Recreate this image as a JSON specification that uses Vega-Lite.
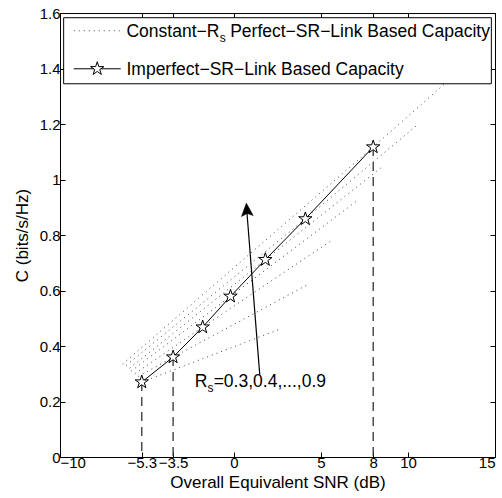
{
  "$schema": "https://vega.github.io/schema/vega-lite/v6.json",
  "width": 435,
  "height": 444,
  "autosize": {"type": "none"},
  "padding": {"left": 60, "top": 13, "right": 7, "bottom": 41},
  "background": "white",
  "config": {
    "font": "Liberation Sans",
    "view": {"stroke": "black", "strokeWidth": 1},
    "axis": {
      "domain": false,
      "grid": false,
      "ticks": true,
      "tickColor": "black",
      "tickSize": -5,
      "zindex": 1,
      "labelColor": "black",
      "labelFont": "Liberation Sans",
      "labelFontSize": 15,
      "titleFont": "Liberation Sans",
      "titleFontSize": 17,
      "titleFontWeight": "normal",
      "titleColor": "black"
    }
  },
  "datasets": {
    "curves": [
      {"rs": 0.3, "snr": -5.3, "cap": 0.27},
      {"rs": 0.3, "snr": 2.6, "cap": 0.46},
      {"rs": 0.4, "snr": -5.5, "cap": 0.29},
      {"rs": 0.4, "snr": -3.5, "cap": 0.36},
      {"rs": 0.4, "snr": 4.2, "cap": 0.62},
      {"rs": 0.5, "snr": -5.7, "cap": 0.3},
      {"rs": 0.5, "snr": -1.8, "cap": 0.468},
      {"rs": 0.5, "snr": 5.6, "cap": 0.78},
      {"rs": 0.6, "snr": -5.9, "cap": 0.31},
      {"rs": 0.6, "snr": -0.2, "cap": 0.579},
      {"rs": 0.6, "snr": 7.0, "cap": 0.92},
      {"rs": 0.7, "snr": -6.0, "cap": 0.32},
      {"rs": 0.7, "snr": 1.8, "cap": 0.711},
      {"rs": 0.7, "snr": 8.6, "cap": 1.05},
      {"rs": 0.8, "snr": -6.2, "cap": 0.33},
      {"rs": 0.8, "snr": 4.1, "cap": 0.858},
      {"rs": 0.8, "snr": 10.6, "cap": 1.2},
      {"rs": 0.9, "snr": -6.4, "cap": 0.335},
      {"rs": 0.9, "snr": 8.0, "cap": 1.117},
      {"rs": 0.9, "snr": 14.0, "cap": 1.45}
    ],
    "imperfect": [
      {"snr": -5.3, "cap": 0.27},
      {"snr": -3.5, "cap": 0.36},
      {"snr": -1.8, "cap": 0.468},
      {"snr": -0.2, "cap": 0.579},
      {"snr": 1.8, "cap": 0.711},
      {"snr": 4.1, "cap": 0.858},
      {"snr": 8.0, "cap": 1.117}
    ],
    "drops": [
      {"snr": -5.3, "cap": 0.27},
      {"snr": -3.5, "cap": 0.36},
      {"snr": 8.0, "cap": 1.117}
    ],
    "arrow": [
      {"snr": 1.48, "cap": 0.297, "snr2": 0.72, "cap2": 0.9}
    ],
    "arrowhead": [
      {"snr": 0.71, "cap": 0.915}
    ],
    "notes": [
      {"snr": -2.26, "cap": 0.252, "label": "R", "size": 17.5},
      {"snr": -1.53, "cap": 0.236, "label": "s", "size": 12},
      {"snr": -1.17, "cap": 0.252, "label": "=0.3,0.4,...,0.9", "size": 17.5}
    ],
    "legendbox": [
      {"snr": -9.79, "snr2": 14.79, "cap": 1.345, "cap2": 1.583}
    ],
    "legenddots": [
      {"snr": -9.21, "snr2": -6.51, "cap": 1.536}
    ],
    "legendsolid": [
      {"snr": -9.21, "snr2": -6.51, "cap": 1.399}
    ],
    "legendstar": [
      {"snr": -7.86, "cap": 1.399}
    ],
    "legendtext": [
      {"snr": -6.18, "cap": 1.515, "label": "Constant−R", "size": 17.5},
      {"snr": -0.82, "cap": 1.497, "label": "s", "size": 12},
      {"snr": -0.22, "cap": 1.515, "label": "Perfect−SR−Link Based Capacity", "size": 17.5},
      {"snr": -6.18, "cap": 1.378, "label": "Imperfect−SR−Link Based Capacity", "size": 17.5}
    ]
  },
  "layer": [
    {
      "data": {"name": "curves"},
      "mark": {"type": "line", "color": "#444", "strokeWidth": 1, "strokeDash": [1, 4], "clip": true},
      "encoding": {
        "x": {"field": "snr", "type": "quantitative", "scale": {"domain": [-10, 15], "nice": false, "zero": false},
              "axis": {"orient": "bottom", "values": [-10, -5.3, -3.5, 0, 5, 8, 10, 15], "format": "~g", "labelPadding": 3, "title": "Overall Equivalent SNR (dB)", "titlePadding": 4}},
        "y": {"field": "cap", "type": "quantitative", "scale": {"domain": [0, 1.6], "nice": false, "zero": false},
              "axis": {"orient": "left", "values": [0, 0.2, 0.4, 0.6, 0.8, 1, 1.2, 1.4, 1.6], "format": "~g", "labelPadding": 5, "title": "C (bits/s/Hz)", "titlePadding": 8}},
        "detail": {"field": "rs", "type": "nominal"}
      }
    },
    {
      "data": {"name": "drops"},
      "mark": {"type": "rule", "color": "#333", "strokeWidth": 1.3, "strokeDash": [9, 6]},
      "encoding": {
        "x": {"field": "snr", "type": "quantitative", "scale": {"domain": [-10, 15], "nice": false, "zero": false},
              "axis": {"orient": "top", "values": [-10, -5.3, -3.5, 0, 5, 8, 10, 15], "labels": false, "title": null}},
        "y": {"field": "cap", "type": "quantitative", "scale": {"domain": [0, 1.6], "nice": false, "zero": false},
              "axis": {"orient": "right", "values": [0, 0.2, 0.4, 0.6, 0.8, 1, 1.2, 1.4, 1.6], "labels": false, "title": null}},
        "y2": {"datum": 0}
      }
    },
    {
      "data": {"name": "imperfect"},
      "mark": {"type": "line", "color": "black", "strokeWidth": 1},
      "encoding": {
        "x": {"field": "snr", "type": "quantitative", "scale": {"domain": [-10, 15]}, "axis": null},
        "y": {"field": "cap", "type": "quantitative", "scale": {"domain": [0, 1.6]}, "axis": null}
      }
    },
    {
      "data": {"name": "imperfect"},
      "mark": {"type": "point", "shape": "M0,-1L0.2245,-0.309L0.951,-0.309L0.363,0.118L0.588,0.809L0,0.382L-0.588,0.809L-0.363,0.118L-0.951,-0.309L-0.2245,-0.309Z", "size": 196, "filled": true, "fill": "white", "stroke": "black", "strokeWidth": 1, "opacity": 1},
      "encoding": {
        "x": {"field": "snr", "type": "quantitative", "scale": {"domain": [-10, 15]}, "axis": null},
        "y": {"field": "cap", "type": "quantitative", "scale": {"domain": [0, 1.6]}, "axis": null}
      }
    },
    {
      "data": {"name": "arrow"},
      "mark": {"type": "rule", "color": "black", "strokeWidth": 1.2},
      "encoding": {
        "x": {"field": "snr", "type": "quantitative", "scale": {"domain": [-10, 15]}, "axis": null},
        "y": {"field": "cap", "type": "quantitative", "scale": {"domain": [0, 1.6]}, "axis": null},
        "x2": {"field": "snr2"},
        "y2": {"field": "cap2"}
      }
    },
    {
      "data": {"name": "arrowhead"},
      "mark": {"type": "point", "shape": "M0,0L0.45,1L0,0.8L-0.45,1Z", "size": 676, "angle": -4.4, "filled": true, "fill": "black", "stroke": "black", "strokeWidth": 0.5, "opacity": 1},
      "encoding": {
        "x": {"field": "snr", "type": "quantitative", "scale": {"domain": [-10, 15]}, "axis": null},
        "y": {"field": "cap", "type": "quantitative", "scale": {"domain": [0, 1.6]}, "axis": null}
      }
    },
    {
      "data": {"name": "notes"},
      "mark": {"type": "text", "align": "left", "baseline": "alphabetic", "font": "Liberation Sans", "color": "black"},
      "encoding": {
        "x": {"field": "snr", "type": "quantitative", "scale": {"domain": [-10, 15]}, "axis": null},
        "y": {"field": "cap", "type": "quantitative", "scale": {"domain": [0, 1.6]}, "axis": null},
        "text": {"field": "label"},
        "size": {"field": "size", "type": "quantitative", "scale": null}
      }
    },
    {
      "data": {"name": "legendbox"},
      "mark": {"type": "rect", "fill": "white", "stroke": "black", "strokeWidth": 1},
      "encoding": {
        "x": {"field": "snr", "type": "quantitative", "scale": {"domain": [-10, 15]}, "axis": null},
        "y": {"field": "cap", "type": "quantitative", "scale": {"domain": [0, 1.6]}, "axis": null},
        "x2": {"field": "snr2"},
        "y2": {"field": "cap2"}
      }
    },
    {
      "data": {"name": "legenddots"},
      "mark": {"type": "rule", "color": "#444", "strokeWidth": 1, "strokeDash": [1, 4]},
      "encoding": {
        "x": {"field": "snr", "type": "quantitative", "scale": {"domain": [-10, 15]}, "axis": null},
        "y": {"field": "cap", "type": "quantitative", "scale": {"domain": [0, 1.6]}, "axis": null},
        "x2": {"field": "snr2"}
      }
    },
    {
      "data": {"name": "legendsolid"},
      "mark": {"type": "rule", "color": "black", "strokeWidth": 1},
      "encoding": {
        "x": {"field": "snr", "type": "quantitative", "scale": {"domain": [-10, 15]}, "axis": null},
        "y": {"field": "cap", "type": "quantitative", "scale": {"domain": [0, 1.6]}, "axis": null},
        "x2": {"field": "snr2"}
      }
    },
    {
      "data": {"name": "legendstar"},
      "mark": {"type": "point", "shape": "M0,-1L0.2245,-0.309L0.951,-0.309L0.363,0.118L0.588,0.809L0,0.382L-0.588,0.809L-0.363,0.118L-0.951,-0.309L-0.2245,-0.309Z", "size": 196, "filled": true, "fill": "white", "stroke": "black", "strokeWidth": 1, "opacity": 1},
      "encoding": {
        "x": {"field": "snr", "type": "quantitative", "scale": {"domain": [-10, 15]}, "axis": null},
        "y": {"field": "cap", "type": "quantitative", "scale": {"domain": [0, 1.6]}, "axis": null}
      }
    },
    {
      "data": {"name": "legendtext"},
      "mark": {"type": "text", "align": "left", "baseline": "alphabetic", "font": "Liberation Sans", "color": "black"},
      "encoding": {
        "x": {"field": "snr", "type": "quantitative", "scale": {"domain": [-10, 15]}, "axis": null},
        "y": {"field": "cap", "type": "quantitative", "scale": {"domain": [0, 1.6]}, "axis": null},
        "text": {"field": "label"},
        "size": {"field": "size", "type": "quantitative", "scale": null}
      }
    }
  ],
  "resolve": {"axis": {"x": "independent", "y": "independent"}}
}
